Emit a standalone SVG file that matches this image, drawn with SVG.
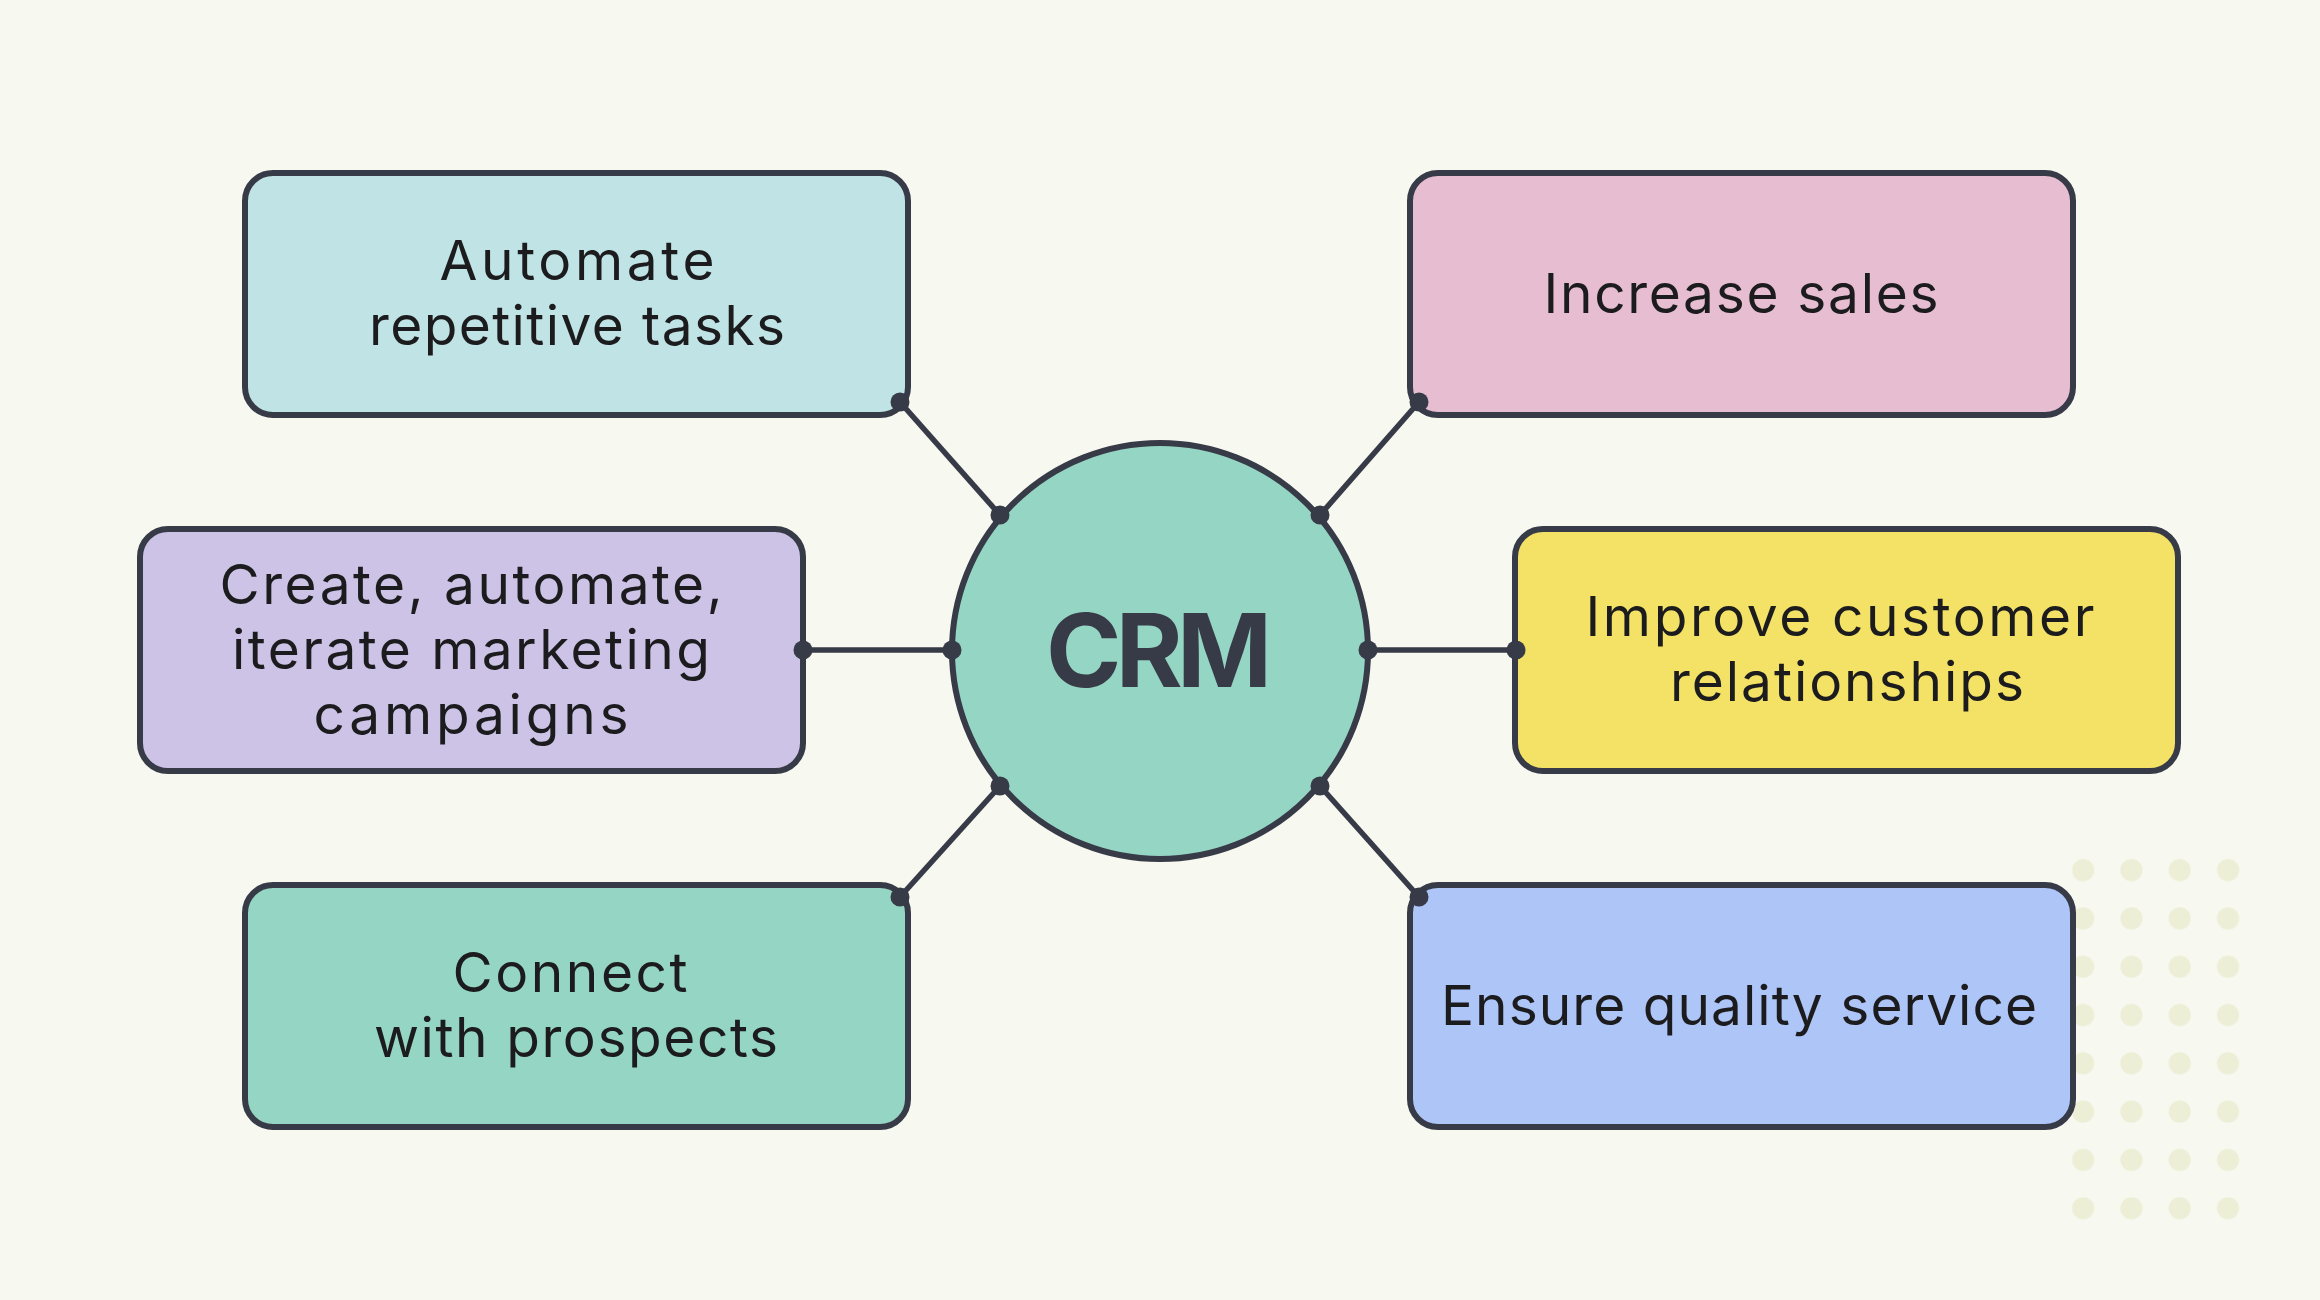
<svg xmlns="http://www.w3.org/2000/svg" width="2320" height="1300" viewBox="0 0 2320 1300">
<style>
.box{stroke:#373A47;stroke-width:6}
.lbl{font-family:Inter,"Noto Sans","Liberation Sans",sans-serif;font-size:55px;fill:#1C1C1E;text-anchor:middle}
.crm{font-family:Inter,"Noto Sans","Liberation Sans",sans-serif;font-size:102px;font-weight:700;fill:#373A47;text-anchor:middle}
.con line{stroke:#373A47;stroke-width:5.5}
.con circle{fill:#373A47}
</style>
<defs>
<pattern id="dotp" x="2059" y="846" width="48.3" height="48.3" patternUnits="userSpaceOnUse">
<circle cx="24.15" cy="24.15" r="11" fill="#EDEED6"/>
</pattern>
</defs>
<rect width="2320" height="1300" fill="#F7F8EF"/>
<g id="dots">
<rect x="2059" y="846" width="193.2" height="386.4" fill="url(#dotp)"/>
</g>
<g id="connectors" class="con">
<line x1="900" y1="402" x2="1000" y2="515"/>
<line x1="1419" y1="402" x2="1320" y2="515"/>
<line x1="802" y1="650" x2="952" y2="650"/>
<line x1="1516" y1="650" x2="1368" y2="650"/>
<line x1="900" y1="897" x2="1000" y2="786"/>
<line x1="1419" y1="897" x2="1320" y2="786"/>
</g>
<g id="node-automate">
<rect class="box" x="245" y="173" width="663" height="242" rx="28" fill="#C0E4E5"/>
<text class="lbl" x="577" y="280" textLength="275">Automate</text>
<text class="lbl" x="577" y="345" textLength="416">repetitive tasks</text>
</g>
<g id="node-create">
<rect class="box" x="140" y="529" width="663" height="242" rx="28" fill="#CCC3E7"/>
<text class="lbl" x="471" y="604" textLength="503">Create, automate,</text>
<text class="lbl" x="471" y="669" textLength="478">iterate marketing</text>
<text class="lbl" x="471" y="734" textLength="315">campaigns</text>
</g>
<g id="node-connect">
<rect class="box" x="245" y="885" width="663" height="242" rx="28" fill="#95D5C3"/>
<text class="lbl" x="570" y="992" textLength="235">Connect</text>
<text class="lbl" x="576" y="1057" textLength="404">with prospects</text>
</g>
<g id="node-sales">
<rect class="box" x="1410" y="173" width="663" height="242" rx="28" fill="#E7BED1"/>
<text class="lbl" x="1741" y="313" textLength="395">Increase sales</text>
</g>
<g id="node-relationships">
<rect class="box" x="1515" y="529" width="663" height="242" rx="28" fill="#F3E265"/>
<text class="lbl" x="1840" y="636" textLength="509">Improve customer</text>
<text class="lbl" x="1847" y="701" textLength="354">relationships</text>
</g>
<g id="node-service">
<rect class="box" x="1410" y="885" width="663" height="242" rx="28" fill="#ADC5F7"/>
<text class="lbl" x="1739" y="1025" textLength="596">Ensure quality service</text>
</g>
<g id="node-crm">
<circle class="box" cx="1160" cy="651" r="208" fill="#95D5C3"/>
<text class="crm" x="1159" y="687" textLength="226">CRM</text>
</g>
<g id="connector-ends" class="con">
<circle cx="900" cy="402" r="9.5"/>
<circle cx="1000" cy="515" r="9.5"/>
<circle cx="1419" cy="402" r="9.5"/>
<circle cx="1320" cy="515" r="9.5"/>
<circle cx="803" cy="650" r="9.5"/>
<circle cx="952" cy="650" r="9.5"/>
<circle cx="1516" cy="650" r="9.5"/>
<circle cx="1368" cy="650" r="9.5"/>
<circle cx="900" cy="897" r="9.5"/>
<circle cx="1000" cy="786" r="9.5"/>
<circle cx="1419" cy="897" r="9.5"/>
<circle cx="1320" cy="786" r="9.5"/>
</g>
</svg>
